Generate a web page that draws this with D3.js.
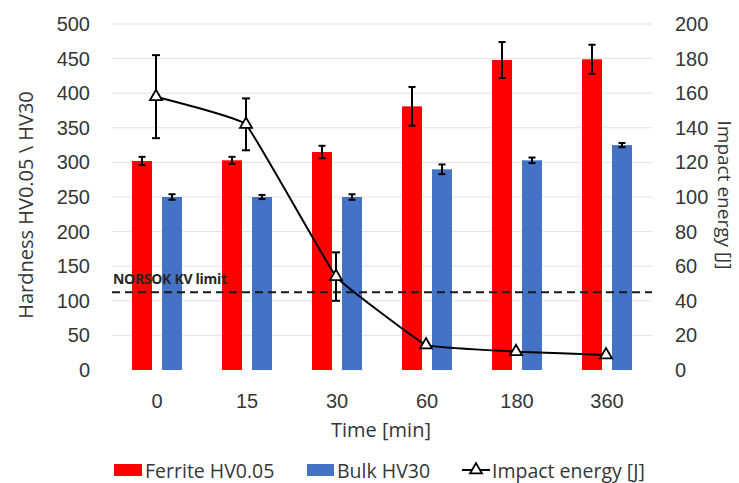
<!DOCTYPE html>
<html>
<head>
<meta charset="utf-8">
<script src="https://cdn.jsdelivr.net/npm/d3@7"></script>
<style>
  body { margin: 0; background: #fff; }
  svg { font-family: "Open Sans", sans-serif; }
</style>
</head>
<body>
<svg id="chart"></svg>
<script>
// values
const times = ["0", "15", "30", "60", "180", "360"];
const ferrite = [302, 303, 315, 381, 448, 449];
const ferriteErr = [6, 5, 9, 28, 26, 21];
const bulk = [250, 250, 250, 290, 303, 325];
const bulkErr = [4, 3, 4, 7, 4, 3];
const impact = [158, 142, 54, 14.5, 10.6, 8.7];
const impactErr = [24, 15, 14, 0, 0, 0];
const norsokLimit = 45;
const hardTicks = [0, 50, 100, 150, 200, 250, 300, 350, 400, 450, 500];
const energyTicks = [0, 20, 40, 60, 80, 100, 120, 140, 160, 180, 200];
const seriesNames = ["Ferrite HV0.05", "Bulk HV30"];

const width = 739;
const height = 483;
const plotLeft = 112, plotRight = 652, plotTop = 24, plotBottom = 370;
const textColor = "#363636";
const colors = { "Ferrite HV0.05": "#ff0000", "Bulk HV30": "#4472c4" };

let svg = d3.select("#chart").attr("width", width).attr("height", height);

let x0 = d3.scaleBand().domain(times).range([plotLeft, plotRight]);
let x1 = d3.scaleBand()
  .domain(seriesNames)
  .range([x0.bandwidth() / 2 - 25, x0.bandwidth() / 2 + 25])
  .paddingInner(1 / 3);
let yL = d3.scaleLinear().domain([0, 500]).range([plotBottom, plotTop]);
let yR = d3.scaleLinear().domain([0, 200]).range([plotBottom, plotTop]);

// gridlines
svg.append("g")
  .selectAll("line")
  .data(hardTicks.slice(1))
  .enter()
  .append("line")
  .attr("x1", plotLeft)
  .attr("x2", plotRight)
  .attr("y1", (d) => yL(d))
  .attr("y2", (d) => yL(d))
  .attr("stroke", "#e2e2e2")
  .attr("stroke-width", 1);

// axes
let styleAxis = (g) => {
  g.select(".domain").remove();
  g.selectAll("text").attr("fill", textColor).style("font-size", "20px");
};

svg.append("g")
  .attr("transform", "translate(" + plotLeft + ",0)")
  .call(d3.axisLeft(yL).tickValues(hardTicks).tickSize(0).tickPadding(22))
  .call(styleAxis);

svg.append("g")
  .attr("transform", "translate(" + plotRight + ",0)")
  .call(d3.axisRight(yR).tickValues(energyTicks).tickSize(0).tickPadding(23))
  .call(styleAxis);

svg.append("g")
  .attr("transform", "translate(0," + plotBottom + ")")
  .call(d3.axisBottom(x0).tickSize(0).tickPadding(24))
  .call(styleAxis);

// bars
let rows = times.map((t, i) => ({
  time: t,
  vals: [
    { key: seriesNames[0], v: ferrite[i], e: ferriteErr[i] },
    { key: seriesNames[1], v: bulk[i], e: bulkErr[i] }
  ]
}));

let groups = svg.append("g")
  .selectAll("g")
  .data(rows)
  .enter()
  .append("g")
  .attr("transform", (d) => "translate(" + x0(d.time) + ",0)");

groups.selectAll("rect")
  .data((d) => d.vals)
  .enter()
  .append("rect")
  .attr("x", (d) => x1(d.key))
  .attr("y", (d) => yL(d.v))
  .attr("width", x1.bandwidth())
  .attr("height", (d) => yL(0) - yL(d.v))
  .attr("fill", (d) => colors[d.key]);

let errBar = (sel, cx, yTop, yBot, cap) => {
  let g = sel.append("g").attr("stroke", "#000").attr("stroke-width", 2);
  g.append("line").attr("x1", cx).attr("x2", cx).attr("y1", yTop).attr("y2", yBot);
  g.append("line").attr("x1", cx - cap).attr("x2", cx + cap).attr("y1", yTop).attr("y2", yTop);
  g.append("line").attr("x1", cx - cap).attr("x2", cx + cap).attr("y1", yBot).attr("y2", yBot);
};

groups.each(function (d) {
  let g = d3.select(this);
  d.vals.forEach((s) => {
    let cx = x1(s.key) + x1.bandwidth() / 2;
    errBar(g, cx, yL(s.v + s.e), yL(s.v - s.e), 3.5);
  });
});

// NORSOK limit
svg.append("line")
  .attr("x1", plotLeft)
  .attr("x2", plotRight)
  .attr("y1", yR(norsokLimit))
  .attr("y2", yR(norsokLimit))
  .attr("stroke", "#1a1a1a")
  .attr("stroke-width", 2)
  .attr("stroke-dasharray", "8,5");

svg.append("text")
  .text("NORSOK KV limit")
  .attr("x", 113)
  .attr("y", yR(norsokLimit) - 8)
  .attr("fill", "#262626")
  .style("font-size", "14px")
  .style("font-weight", "bold")
  .style("letter-spacing", "-0.3px");

// impact energy line
let cx = (i) => x0(times[i]) + x0.bandwidth() / 2 - 1;

times.forEach((t, i) => {
  if (impactErr[i] > 0) {
    errBar(svg, cx(i), yR(impact[i] + impactErr[i]), yR(impact[i] - impactErr[i]), 4);
  }
});

let line = d3.line()
  .x((d, i) => cx(i))
  .y((d) => yR(d))
  .curve(d3.curveCardinal.tension(0.78));

svg.append("path")
  .datum(impact)
  .attr("d", line)
  .attr("fill", "none")
  .attr("stroke", "#000")
  .attr("stroke-width", 2);

let tri = d3.symbol(d3.symbolTriangle, 62);

svg.append("g")
  .selectAll("path")
  .data(impact)
  .enter()
  .append("path")
  .attr("d", tri)
  .attr("transform", (d, i) => "translate(" + cx(i) + "," + yR(d) + ")")
  .attr("fill", "#fff")
  .attr("stroke", "#000")
  .attr("stroke-width", 1.8);

// axis titles
svg.append("text")
  .text("Time [min]")
  .attr("x", 381)
  .attr("y", 437)
  .attr("text-anchor", "middle")
  .attr("fill", textColor)
  .style("font-size", "20px");

svg.append("text")
  .text("Hardness HV0.05 \\ HV30")
  .attr("transform", "translate(25,205) rotate(-90)")
  .attr("text-anchor", "middle")
  .attr("dominant-baseline", "central")
  .attr("fill", textColor)
  .style("font-size", "20px");

svg.append("text")
  .text("Impact energy [J]")
  .attr("transform", "translate(725,195) rotate(90)")
  .attr("text-anchor", "middle")
  .attr("dominant-baseline", "central")
  .attr("fill", textColor)
  .style("font-size", "19px");

// legend
let legend = svg.append("g").style("font-size", "19.5px");
let legendY = 470;

legend.append("rect").attr("x", 114).attr("y", legendY - 6).attr("width", 28).attr("height", 12)
  .attr("fill", colors[seriesNames[0]]);
legend.append("text").text(seriesNames[0]).attr("x", 145).attr("y", legendY)
  .attr("dominant-baseline", "central").attr("fill", textColor);

legend.append("rect").attr("x", 307).attr("y", legendY - 6).attr("width", 27).attr("height", 12)
  .attr("fill", colors[seriesNames[1]]);
legend.append("text").text(seriesNames[1]).attr("x", 337).attr("y", legendY)
  .attr("dominant-baseline", "central").attr("fill", textColor);

legend.append("line").attr("x1", 462).attr("x2", 490).attr("y1", legendY).attr("y2", legendY)
  .attr("stroke", "#000").attr("stroke-width", 2);
legend.append("path").attr("d", tri).attr("transform", "translate(476," + legendY + ")")
  .attr("fill", "#fff").attr("stroke", "#000").attr("stroke-width", 1.8);
legend.append("text").text("Impact energy [J]").attr("x", 492).attr("y", legendY)
  .attr("dominant-baseline", "central").attr("fill", textColor);
</script>
</body>
</html>
